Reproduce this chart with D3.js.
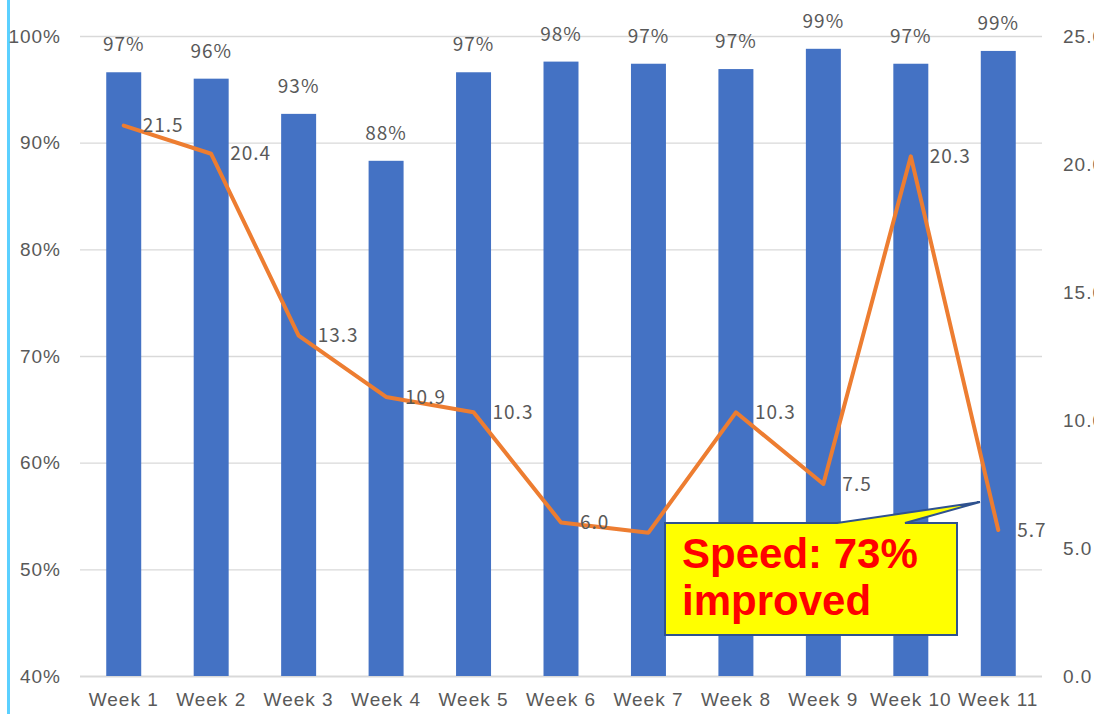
<!DOCTYPE html>
<html>
<head>
<meta charset="utf-8">
<script src="https://cdn.jsdelivr.net/npm/d3@7"></script>
<style>
  body { margin: 0; background: #fff; }
  svg { display: block; font-family: "Noto Sans CJK JP", "Noto Sans", sans-serif; }
  .lbl, .tick text { fill: #595959; font-size: 19px; letter-spacing: 1px; }
</style>
</head>
<body>
<div class="chart"></div>
<script>
    // data
    const weeks = ["Week 1", "Week 2", "Week 3", "Week 4", "Week 5", "Week 6",
                   "Week 7", "Week 8", "Week 9", "Week 10", "Week 11"];
    const ratio = [0.966, 0.960, 0.927, 0.883, 0.966, 0.976, 0.974, 0.969, 0.988, 0.974, 0.986];
    const speed = [21.5, 20.4, 13.3, 10.9, 10.3, 6.0, 5.6, 10.3, 7.5, 20.3, 5.7];
    const leftTicks = [0.4, 0.5, 0.6, 0.7, 0.8, 0.9, 1.0];
    const rightTicks = [0, 5, 10, 15, 20, 25];
    const calloutLines = ["Speed: 73%", "improved"];

    const width = 1094, height = 714;
    const plot = {left: 80, right: 1042, top: 36, bottom: 676};

    const svg = d3.select('.chart').append('svg')
      .attr('width', width).attr('height', height);

    // light blue stripe on the left edge
    svg.append('rect').attr('x', 7).attr('y', 0).attr('width', 3).attr('height', height)
      .attr('fill', '#5BD0FF');

    const x = d3.scaleBand().domain(weeks)
      .range([plot.left, plot.right]).paddingInner(0.6).paddingOuter(0.3);
    const yL = d3.scaleLinear().domain([0.4, 1.0]).range([plot.bottom, plot.top]);
    const yR = d3.scaleLinear().domain([0, 25]).range([plot.bottom, plot.top]);

    // grid
    const grid = svg.append('g').attr('transform', `translate(${plot.left},0)`)
      .call(d3.axisLeft(yL).tickValues(leftTicks).tickSize(-(plot.right - plot.left)).tickFormat(''));
    grid.select('.domain').remove();
    grid.selectAll('line').attr('stroke', '#d9d9d9').attr('stroke-width', 1.3);
    grid.selectAll('.tick').filter(d => d === 0.4).select('line').attr('stroke-width', 2);

    // left axis
    const gl = svg.append('g').attr('transform', `translate(61,0)`)
      .call(d3.axisLeft(yL).tickValues(leftTicks).tickSize(0).tickPadding(0).tickFormat(d3.format('.0%')));
    gl.select('.domain').remove();

    // right axis
    const gr = svg.append('g').attr('transform', `translate(1063,0)`)
      .call(d3.axisRight(yR).tickValues(rightTicks).tickSize(0).tickPadding(0).tickFormat(d3.format('.1f')));
    gr.select('.domain').remove();

    // bottom axis
    const gb = svg.append('g').attr('transform', `translate(0,${plot.bottom})`)
      .call(d3.axisBottom(x).tickSize(0).tickPadding(17));
    gb.select('.domain').remove();

    // bars
    svg.append('g').selectAll('rect').data(weeks).join('rect')
      .attr('x', d => x(d))
      .attr('y', (d, i) => yL(ratio[i]))
      .attr('width', x.bandwidth())
      .attr('height', (d, i) => plot.bottom - yL(ratio[i]))
      .attr('fill', '#4472C4');

    svg.append('g').selectAll('text').data(weeks).join('text')
      .attr('class', 'lbl')
      .attr('x', d => x(d) + x.bandwidth() / 2)
      .attr('y', (d, i) => yL(ratio[i]) - 21)
      .attr('text-anchor', 'middle')
      .text((d, i) => d3.format('.0%')(ratio[i]));

    // line
    const cx = d => x(d) + x.bandwidth() / 2;
    const line = d3.line().x(d => cx(d)).y((d, i) => yR(speed[i]));
    svg.append('path').datum(weeks)
      .attr('d', line)
      .attr('fill', 'none')
      .attr('stroke', '#ED7D31')
      .attr('stroke-width', 4)
      .attr('stroke-linejoin', 'round')
      .attr('stroke-linecap', 'round');

    svg.append('g').selectAll('text').data(weeks).join('text')
      .attr('class', 'lbl')
      .attr('x', d => cx(d) + 19)
      .attr('y', (d, i) => yR(speed[i]))
      .attr('dy', '0.35em')
      .text((d, i) => d3.format('.1f')(speed[i]));

    // callout (covers the Week 7 label, as in the original)
    const box = {x: 665, y: 523, w: 292, h: 112};
    const callout = svg.append('g');
    callout.append('path')
      .attr('d', `M${box.x},${box.y} H837 L980,502 L905,${box.y} H${box.x + box.w} V${box.y + box.h} H${box.x} Z`)
      .attr('fill', '#FFFF00')
      .attr('stroke', '#2F528F')
      .attr('stroke-width', 2)
      .attr('stroke-linejoin', 'miter');
    callout.selectAll('text').data(calloutLines).join('text')
      .attr('x', 682)
      .attr('y', (d, i) => 568 + i * 47)
      .attr('fill', '#FF0000')
      .attr('font-family', 'Liberation Sans, Arial, sans-serif')
      .attr('font-weight', 'bold')
      .attr('font-size', 42)
      .text(d => d);
</script>
</body>
</html>
